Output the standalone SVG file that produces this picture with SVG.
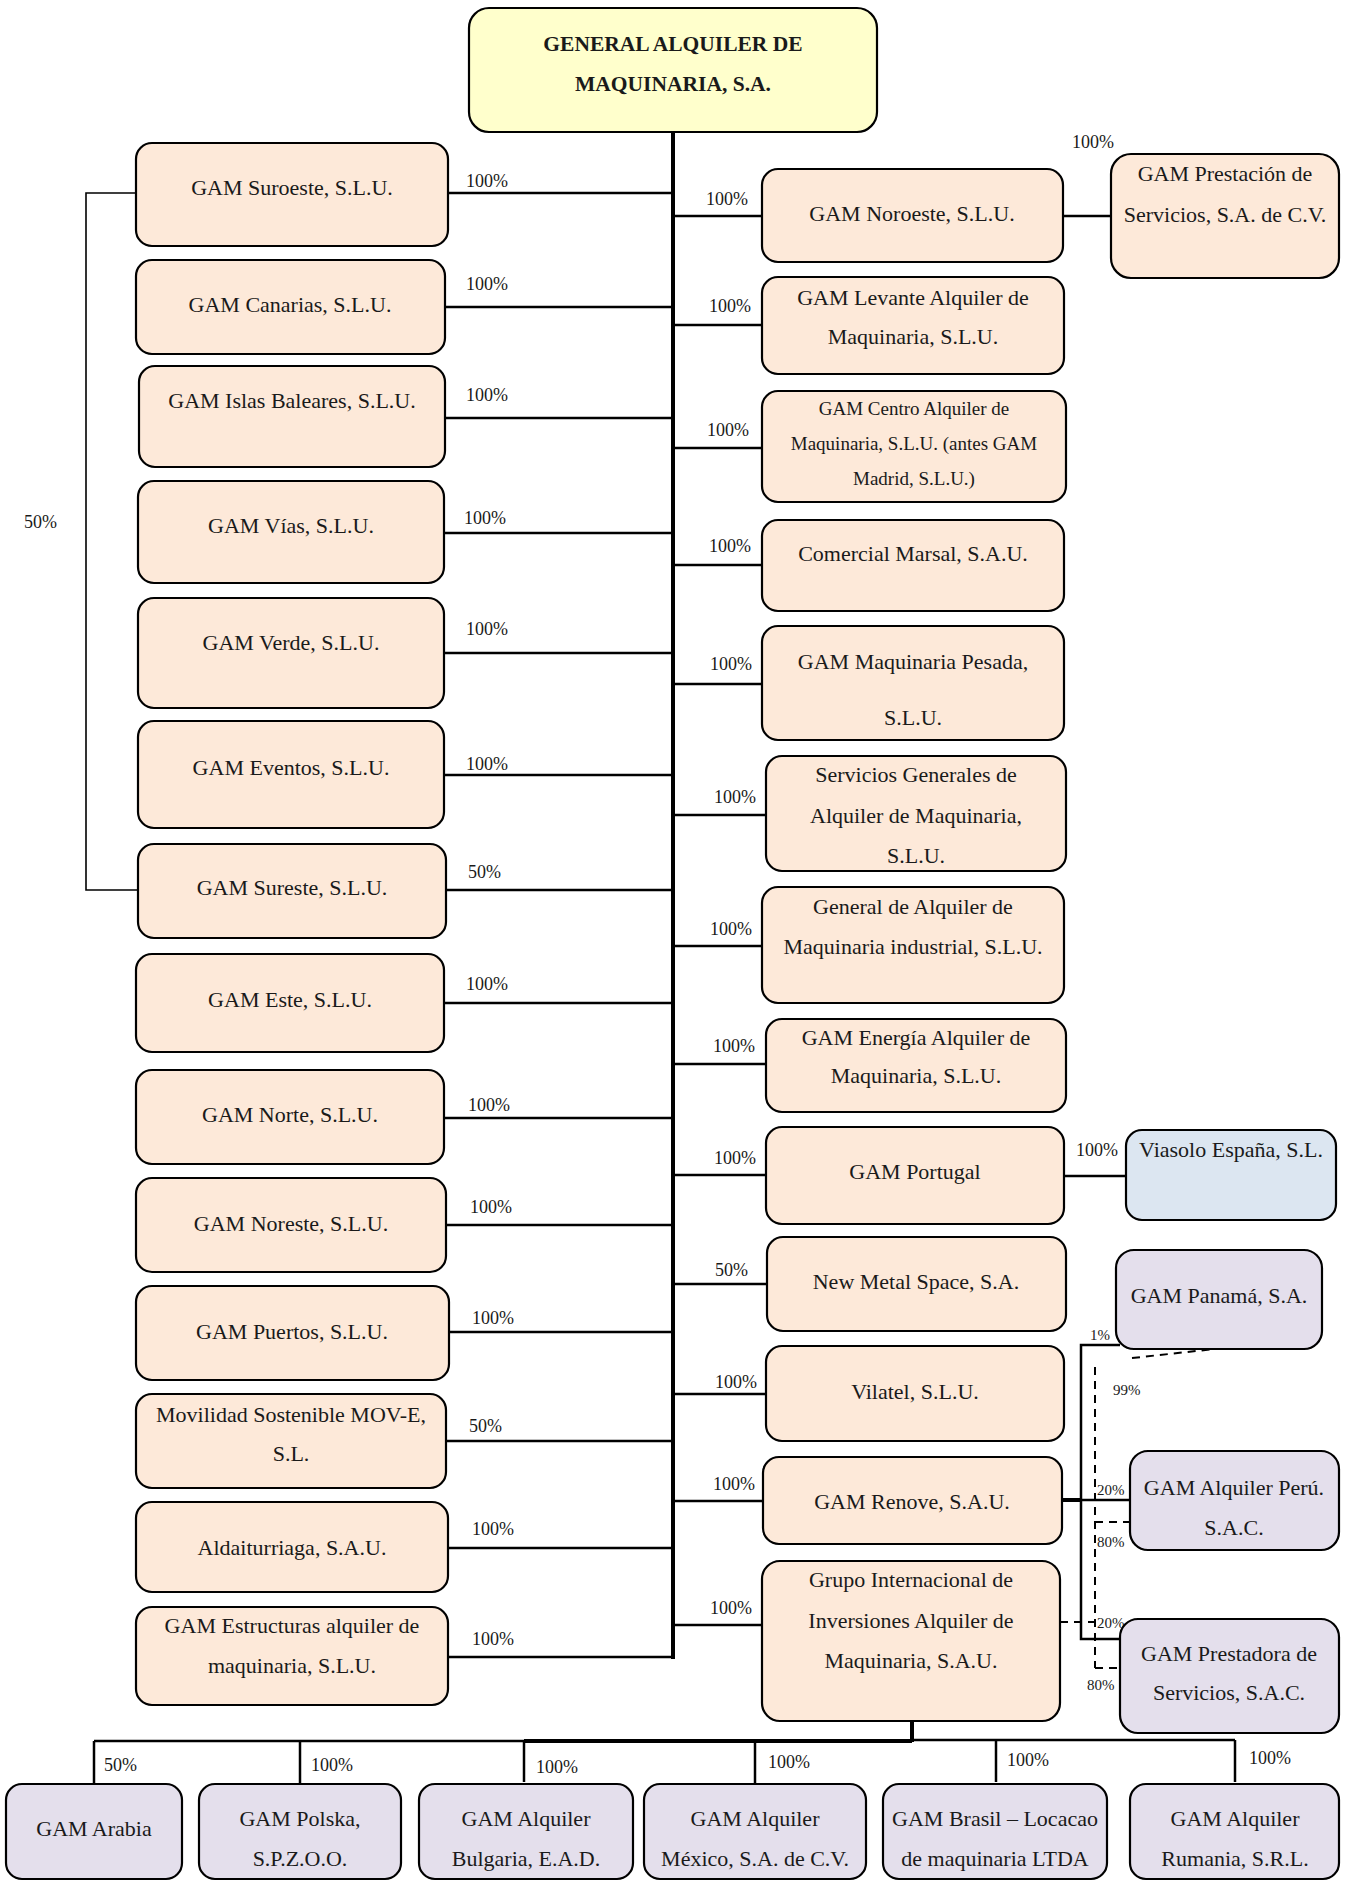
<svg xmlns="http://www.w3.org/2000/svg" width="1346" height="1881" viewBox="0 0 1346 1881">
<style>
text{font-family:"Liberation Serif","DejaVu Serif",serif;fill:#1a1a1a}
.n{font-size:22px;text-anchor:middle}
.s{font-size:19px;text-anchor:middle}
.t{font-size:21.5px;font-weight:bold;text-anchor:middle}
.p{font-size:18px}
.q{font-size:15px}
.box{stroke:#000;stroke-width:2.2}
.pe{fill:#fde9d9}
.ye{fill:#ffffcc}
.pu{fill:#e4dfec}
.bl{fill:#dce6f1}
.c{stroke:#000;stroke-width:2.5;fill:none}
.k{stroke:#000;stroke-width:4;fill:none}
.h{stroke:#000;stroke-width:1.6;fill:none}
.d{stroke:#000;stroke-width:2;fill:none;stroke-dasharray:8,6}
</style>
<rect width="1346" height="1881" fill="#fff"/>
<g id="connectors">
<line class="k" x1="673" y1="132" x2="673" y2="1659"/>
<line class="c" x1="448" y1="193" x2="673" y2="193"/>
<line class="c" x1="445" y1="307" x2="673" y2="307"/>
<line class="c" x1="445" y1="418" x2="673" y2="418"/>
<line class="c" x1="444" y1="533" x2="673" y2="533"/>
<line class="c" x1="444" y1="653" x2="673" y2="653"/>
<line class="c" x1="444" y1="775" x2="673" y2="775"/>
<line class="c" x1="446" y1="890" x2="673" y2="890"/>
<line class="c" x1="444" y1="1003" x2="673" y2="1003"/>
<line class="c" x1="444" y1="1118" x2="673" y2="1118"/>
<line class="c" x1="446" y1="1225" x2="673" y2="1225"/>
<line class="c" x1="449" y1="1332" x2="673" y2="1332"/>
<line class="c" x1="446" y1="1441" x2="673" y2="1441"/>
<line class="c" x1="448" y1="1548" x2="673" y2="1548"/>
<line class="c" x1="448" y1="1657" x2="673" y2="1657"/>
<polyline class="h" points="136,193 86,193 86,890 138,890"/>
<line class="c" x1="673" y1="216" x2="762" y2="216"/>
<line class="c" x1="1063" y1="216" x2="1111" y2="216"/>
<line class="c" x1="673" y1="325" x2="762" y2="325"/>
<line class="c" x1="673" y1="448" x2="762" y2="448"/>
<line class="c" x1="673" y1="565" x2="762" y2="565"/>
<line class="c" x1="673" y1="684" x2="762" y2="684"/>
<line class="c" x1="673" y1="815" x2="766" y2="815"/>
<line class="c" x1="673" y1="946" x2="762" y2="946"/>
<line class="c" x1="673" y1="1064" x2="766" y2="1064"/>
<line class="c" x1="673" y1="1175" x2="766" y2="1175"/>
<line class="c" x1="1064" y1="1176" x2="1126" y2="1176"/>
<line class="c" x1="673" y1="1284" x2="767" y2="1284"/>
<line class="c" x1="673" y1="1394" x2="766" y2="1394"/>
<line class="c" x1="673" y1="1501" x2="763" y2="1501"/>
<line class="c" x1="673" y1="1625" x2="762" y2="1625"/>
<polyline class="c" points="1120,1345 1081,1345 1081,1639 1120,1639"/>
<line class="k" x1="1062" y1="1500" x2="1081" y2="1500"/>
<line class="c" x1="1081" y1="1500" x2="1130" y2="1500"/>
<line class="d" x1="1132" y1="1358" x2="1215" y2="1349"/>
<line class="d" x1="1095" y1="1367" x2="1095" y2="1668"/>
<line class="d" x1="1095" y1="1522" x2="1130" y2="1522"/>
<line class="d" x1="1060" y1="1622" x2="1095" y2="1622"/>
<line class="d" x1="1095" y1="1668" x2="1120" y2="1668"/>
<line class="k" x1="912" y1="1721" x2="912" y2="1742"/>
<line class="c" x1="94" y1="1741" x2="524" y2="1741"/>
<line class="k" x1="524" y1="1741" x2="912" y2="1741"/>
<line class="c" x1="912" y1="1740" x2="1235" y2="1740"/>
<line class="c" x1="94" y1="1741" x2="94" y2="1784"/>
<line class="c" x1="300" y1="1741" x2="300" y2="1784"/>
<line class="c" x1="524" y1="1741" x2="524" y2="1782"/>
<line class="c" x1="755" y1="1741" x2="755" y2="1784"/>
<line class="c" x1="996" y1="1740" x2="996" y2="1782"/>
<line class="c" x1="1235" y1="1740" x2="1235" y2="1782"/>
</g>
<g id="labels">
<text class="p" x="466" y="187">100%</text>
<text class="p" x="466" y="290">100%</text>
<text class="p" x="466" y="401">100%</text>
<text class="p" x="464" y="524">100%</text>
<text class="p" x="466" y="635">100%</text>
<text class="p" x="466" y="770">100%</text>
<text class="p" x="468" y="878">50%</text>
<text class="p" x="466" y="990">100%</text>
<text class="p" x="468" y="1111">100%</text>
<text class="p" x="470" y="1213">100%</text>
<text class="p" x="472" y="1324">100%</text>
<text class="p" x="469" y="1432">50%</text>
<text class="p" x="472" y="1535">100%</text>
<text class="p" x="472" y="1645">100%</text>
<text class="p" x="24" y="528">50%</text>
<text class="p" x="706" y="205">100%</text>
<text class="p" x="1072" y="148">100%</text>
<text class="p" x="709" y="312">100%</text>
<text class="p" x="707" y="436">100%</text>
<text class="p" x="709" y="552">100%</text>
<text class="p" x="710" y="670">100%</text>
<text class="p" x="714" y="803">100%</text>
<text class="p" x="710" y="935">100%</text>
<text class="p" x="713" y="1052">100%</text>
<text class="p" x="714" y="1164">100%</text>
<text class="p" x="1076" y="1156">100%</text>
<text class="p" x="715" y="1276">50%</text>
<text class="p" x="715" y="1388">100%</text>
<text class="p" x="713" y="1490">100%</text>
<text class="p" x="710" y="1614">100%</text>
<text class="q" x="1090" y="1340">1%</text>
<text class="q" x="1113" y="1395">99%</text>
<text class="q" x="1097" y="1495">20%</text>
<text class="q" x="1097" y="1547">80%</text>
<text class="q" x="1097" y="1628">20%</text>
<text class="q" x="1087" y="1690">80%</text>
<text class="p" x="104" y="1771">50%</text>
<text class="p" x="311" y="1771">100%</text>
<text class="p" x="536" y="1773">100%</text>
<text class="p" x="768" y="1768">100%</text>
<text class="p" x="1007" y="1766">100%</text>
<text class="p" x="1249" y="1764">100%</text>
</g>
<g id="gam-parent"><rect class="box ye" x="469" y="8" width="408" height="124" rx="20"/><text class="t" x="673" y="51">GENERAL ALQUILER DE</text><text class="t" x="673" y="91">MAQUINARIA, S.A.</text></g>
<g id="suroeste"><rect class="box pe" x="136" y="143" width="312" height="103" rx="16"/><text class="n" x="292" y="195">GAM Suroeste, S.L.U.</text></g>
<g id="canarias"><rect class="box pe" x="136" y="260" width="309" height="94" rx="16"/><text class="n" x="290" y="312">GAM Canarias, S.L.U.</text></g>
<g id="baleares"><rect class="box pe" x="139" y="366" width="306" height="101" rx="16"/><text class="n" x="292" y="408">GAM Islas Baleares, S.L.U.</text></g>
<g id="vias"><rect class="box pe" x="138" y="481" width="306" height="102" rx="16"/><text class="n" x="291" y="533">GAM Vías, S.L.U.</text></g>
<g id="verde"><rect class="box pe" x="138" y="598" width="306" height="110" rx="16"/><text class="n" x="291" y="650">GAM Verde, S.L.U.</text></g>
<g id="eventos"><rect class="box pe" x="138" y="721" width="306" height="107" rx="16"/><text class="n" x="291" y="775">GAM Eventos, S.L.U.</text></g>
<g id="sureste"><rect class="box pe" x="138" y="844" width="308" height="94" rx="16"/><text class="n" x="292" y="895">GAM Sureste, S.L.U.</text></g>
<g id="este"><rect class="box pe" x="136" y="954" width="308" height="98" rx="16"/><text class="n" x="290" y="1007">GAM Este, S.L.U.</text></g>
<g id="norte"><rect class="box pe" x="136" y="1070" width="308" height="94" rx="16"/><text class="n" x="290" y="1122">GAM Norte, S.L.U.</text></g>
<g id="noreste"><rect class="box pe" x="136" y="1178" width="310" height="94" rx="16"/><text class="n" x="291" y="1231">GAM Noreste, S.L.U.</text></g>
<g id="puertos"><rect class="box pe" x="136" y="1286" width="313" height="94" rx="16"/><text class="n" x="292" y="1339">GAM Puertos, S.L.U.</text></g>
<g id="movilidad"><rect class="box pe" x="136" y="1394" width="310" height="94" rx="16"/><text class="n" x="291" y="1422">Movilidad Sostenible MOV-E,</text><text class="n" x="291" y="1461">S.L.</text></g>
<g id="aldaiturriaga"><rect class="box pe" x="136" y="1502" width="312" height="90" rx="16"/><text class="n" x="292" y="1555">Aldaiturriaga, S.A.U.</text></g>
<g id="estructuras"><rect class="box pe" x="136" y="1607" width="312" height="98" rx="16"/><text class="n" x="292" y="1633">GAM Estructuras alquiler de</text><text class="n" x="292" y="1673">maquinaria, S.L.U.</text></g>
<g id="noroeste"><rect class="box pe" x="762" y="169" width="301" height="93" rx="16"/><text class="n" x="912" y="221">GAM Noroeste, S.L.U.</text></g>
<g id="prestacion"><rect class="box pe" x="1111" y="154" width="228" height="124" rx="20"/><text class="n" x="1225" y="181">GAM Prestación de</text><text class="n" x="1225" y="222">Servicios, S.A. de C.V.</text></g>
<g id="levante"><rect class="box pe" x="762" y="277" width="302" height="97" rx="16"/><text class="n" x="913" y="305">GAM Levante Alquiler de</text><text class="n" x="913" y="344">Maquinaria, S.L.U.</text></g>
<g id="centro"><rect class="box pe" x="762" y="391" width="304" height="111" rx="16"/><text class="s" x="914" y="415">GAM Centro Alquiler de</text><text class="s" x="914" y="450">Maquinaria, S.L.U. (antes GAM</text><text class="s" x="914" y="485">Madrid, S.L.U.)</text></g>
<g id="marsal"><rect class="box pe" x="762" y="520" width="302" height="91" rx="16"/><text class="n" x="913" y="561">Comercial Marsal, S.A.U.</text></g>
<g id="pesada"><rect class="box pe" x="762" y="626" width="302" height="114" rx="16"/><text class="n" x="913" y="669">GAM Maquinaria Pesada,</text><text class="n" x="913" y="725">S.L.U.</text></g>
<g id="servicios-generales"><rect class="box pe" x="766" y="756" width="300" height="115" rx="16"/><text class="n" x="916" y="782">Servicios Generales de</text><text class="n" x="916" y="823">Alquiler de Maquinaria,</text><text class="n" x="916" y="863">S.L.U.</text></g>
<g id="general-industrial"><rect class="box pe" x="762" y="887" width="302" height="116" rx="16"/><text class="n" x="913" y="914">General de Alquiler de</text><text class="n" x="913" y="954">Maquinaria industrial, S.L.U.</text></g>
<g id="energia"><rect class="box pe" x="766" y="1019" width="300" height="93" rx="16"/><text class="n" x="916" y="1045">GAM Energía Alquiler de</text><text class="n" x="916" y="1083">Maquinaria, S.L.U.</text></g>
<g id="portugal"><rect class="box pe" x="766" y="1127" width="298" height="97" rx="16"/><text class="n" x="915" y="1179">GAM Portugal</text></g>
<g id="viasolo"><rect class="box bl" x="1126" y="1130" width="210" height="90" rx="16"/><text class="n" x="1231" y="1157">Viasolo España, S.L.</text></g>
<g id="new-metal"><rect class="box pe" x="767" y="1237" width="299" height="94" rx="16"/><text class="n" x="916" y="1289">New Metal Space, S.A.</text></g>
<g id="vilatel"><rect class="box pe" x="766" y="1346" width="298" height="95" rx="16"/><text class="n" x="915" y="1399">Vilatel, S.L.U.</text></g>
<g id="renove"><rect class="box pe" x="763" y="1457" width="299" height="87" rx="16"/><text class="n" x="912" y="1509">GAM Renove, S.A.U.</text></g>
<g id="grupo"><rect class="box pe" x="762" y="1561" width="298" height="160" rx="18"/><text class="n" x="911" y="1587">Grupo Internacional de</text><text class="n" x="911" y="1628">Inversiones Alquiler de</text><text class="n" x="911" y="1668">Maquinaria, S.A.U.</text></g>
<g id="panama"><rect class="box pu" x="1116" y="1250" width="206" height="99" rx="18"/><text class="n" x="1219" y="1303">GAM Panamá, S.A.</text></g>
<g id="peru"><rect class="box pu" x="1130" y="1451" width="209" height="99" rx="18"/><text class="n" x="1234" y="1495">GAM Alquiler Perú.</text><text class="n" x="1234" y="1535">S.A.C.</text></g>
<g id="prestadora"><rect class="box pu" x="1120" y="1619" width="219" height="114" rx="18"/><text class="n" x="1229" y="1661">GAM Prestadora de</text><text class="n" x="1229" y="1700">Servicios, S.A.C.</text></g>
<g id="arabia"><rect class="box pu" x="6" y="1784" width="176" height="95" rx="16"/><text class="n" x="94" y="1836">GAM Arabia</text></g>
<g id="polska"><rect class="box pu" x="199" y="1784" width="202" height="95" rx="16"/><text class="n" x="300" y="1826">GAM Polska,</text><text class="n" x="300" y="1866">S.P.Z.O.O.</text></g>
<g id="bulgaria"><rect class="box pu" x="419" y="1784" width="214" height="95" rx="16"/><text class="n" x="526" y="1826">GAM Alquiler</text><text class="n" x="526" y="1866">Bulgaria, E.A.D.</text></g>
<g id="mexico"><rect class="box pu" x="644" y="1784" width="222" height="95" rx="16"/><text class="n" x="755" y="1826">GAM Alquiler</text><text class="n" x="755" y="1866">México, S.A. de C.V.</text></g>
<g id="brasil"><rect class="box pu" x="883" y="1784" width="224" height="95" rx="16"/><text class="n" x="995" y="1826">GAM Brasil – Locacao</text><text class="n" x="995" y="1866">de maquinaria LTDA</text></g>
<g id="rumania"><rect class="box pu" x="1130" y="1784" width="209" height="95" rx="16"/><text class="n" x="1235" y="1826">GAM Alquiler</text><text class="n" x="1235" y="1866">Rumania, S.R.L.</text></g>
</svg>
